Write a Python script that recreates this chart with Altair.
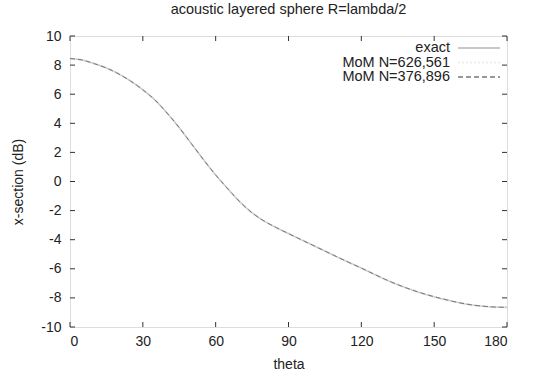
import altair as alt
import pandas as pd

theta = [0, 5, 10, 15, 20, 25, 30, 35, 40, 45, 50, 55, 60, 65, 70, 75, 80, 85, 90,
         95, 100, 105, 110, 115, 120, 125, 130, 135, 140, 145, 150, 155, 160, 165, 170, 175, 180]
exact = [8.45, 8.35, 8.1, 7.8, 7.4, 6.9, 6.3, 5.6, 4.7, 3.7, 2.6, 1.5, 0.45, -0.5, -1.4,
         -2.15, -2.72, -3.17, -3.58, -3.98, -4.38, -4.78, -5.18, -5.57, -5.95, -6.35, -6.74, -7.09,
         -7.4, -7.68, -7.92, -8.13, -8.32, -8.47, -8.57, -8.63, -8.65]
mom_626 = [8.45, 8.35, 8.1, 7.8, 7.4, 6.9, 6.3, 5.6, 4.7, 3.7, 2.6, 1.5, 0.45, -0.5, -1.4,
           -2.15, -2.72, -3.17, -3.58, -3.98, -4.38, -4.78, -5.18, -5.57, -5.95, -6.35, -6.74, -7.09,
           -7.4, -7.68, -7.92, -8.13, -8.32, -8.47, -8.57, -8.63, -8.65]
mom_376 = [8.45, 8.35, 8.1, 7.8, 7.4, 6.9, 6.3, 5.6, 4.7, 3.7, 2.6, 1.5, 0.45, -0.5, -1.4,
           -2.15, -2.72, -3.17, -3.58, -3.98, -4.38, -4.78, -5.18, -5.57, -5.95, -6.35, -6.74, -7.09,
           -7.4, -7.68, -7.92, -8.13, -8.32, -8.47, -8.57, -8.63, -8.65]

series_names = ["exact", "MoM N=626,561", "MoM N=376,896"]
series_colors = ["#c8c8c8", "#e8e8e8", "#777777"]
series_dash = [[1, 0], [2, 2], [5, 3]]
series_width = [1.6, 1.2, 1.0]

x_ticks = [0, 30, 60, 90, 120, 150, 180]
y_ticks = [-10, -8, -6, -4, -2, 0, 2, 4, 6, 8, 10]

W, H = 437, 291
FONT = "Liberation Sans"

xs = alt.Scale(domain=[0, 180], nice=False, zero=False)
ys = alt.Scale(domain=[-10, 10], nice=False, zero=False)

x_axis = alt.Axis(values=x_ticks, title="theta", ticks=False, domain=False,
                  grid=False, labelPadding=7, titlePadding=9,
                  labelOverlap=False, labelExpr="'' + datum.value",
                  labelFontSize=14, titleFontSize=14, labelFont=FONT,
                  titleFont=FONT, titleFontWeight="normal",
                  labelColor="#222", titleColor="#222")
y_axis = alt.Axis(values=y_ticks, title="x-section (dB)", ticks=False,
                  domain=False, grid=False, labelPadding=9, titlePadding=15,
                  labelOverlap=False, labelExpr="'' + datum.value",
                  labelFontSize=14, titleFontSize=14, labelFont=FONT,
                  titleFont=FONT, titleFontWeight="normal",
                  labelColor="#222", titleColor="#222")

layers = []
for name, vals, col, dash, sw in zip(series_names, [exact, mom_626, mom_376],
                                      series_colors, series_dash, series_width):
    df = pd.DataFrame({"theta": theta, "v": vals})
    layers.append(
        alt.Chart(df).mark_line(color=col, strokeDash=dash, strokeWidth=sw,
                                interpolate="monotone").encode(
            x=alt.X("theta:Q", scale=xs, axis=x_axis),
            y=alt.Y("v:Q", scale=ys, axis=y_axis),
        )
    )

xt = pd.DataFrame({"t": x_ticks})
yt = pd.DataFrame({"t": y_ticks})
tick_color = "#333"
layers.append(alt.Chart(xt).mark_rule(color=tick_color).encode(
    x=alt.X("t:Q", scale=xs, axis=x_axis), y=alt.value(H), y2=alt.value(H - 5)))
layers.append(alt.Chart(xt).mark_rule(color=tick_color).encode(
    x=alt.X("t:Q", scale=xs, axis=x_axis), y=alt.value(0), y2=alt.value(5)))
layers.append(alt.Chart(yt).mark_rule(color=tick_color).encode(
    y=alt.Y("t:Q", scale=ys, axis=y_axis), x=alt.value(0), x2=alt.value(5)))
layers.append(alt.Chart(yt).mark_rule(color=tick_color).encode(
    y=alt.Y("t:Q", scale=ys, axis=y_axis), x=alt.value(W), x2=alt.value(W - 5)))

# gnuplot-style key, top right inside the frame
for i, (name, col, dash, sw) in enumerate(zip(series_names, series_colors, series_dash, series_width)):
    yy = 12 + i * 14.5
    kd = pd.DataFrame({"label": [name]})
    layers.append(alt.Chart(kd).mark_text(align="right", baseline="middle", fontSize=14.5,
                                          font=FONT, color="#222").encode(
        text="label:N", x=alt.value(380), y=alt.value(yy)))
    layers.append(alt.Chart(kd).mark_rule(color=col, strokeDash=dash, strokeWidth=sw + 0.3).encode(
        x=alt.value(388), x2=alt.value(430), y=alt.value(yy)))

chart = alt.layer(*layers).properties(
    width=W, height=H,
    title=alt.Title("acoustic layered sphere R=lambda/2", fontSize=14.5, font=FONT,
                    fontWeight="normal", color="#222", offset=12),
    autosize="none",
    padding={"left": 70, "top": 36, "right": 28, "bottom": 49},
).configure_view(stroke="#222", strokeWidth=1.2).configure(background="white")

chart.save("out.html", embed_options={"renderer": "svg", "actions": False})
